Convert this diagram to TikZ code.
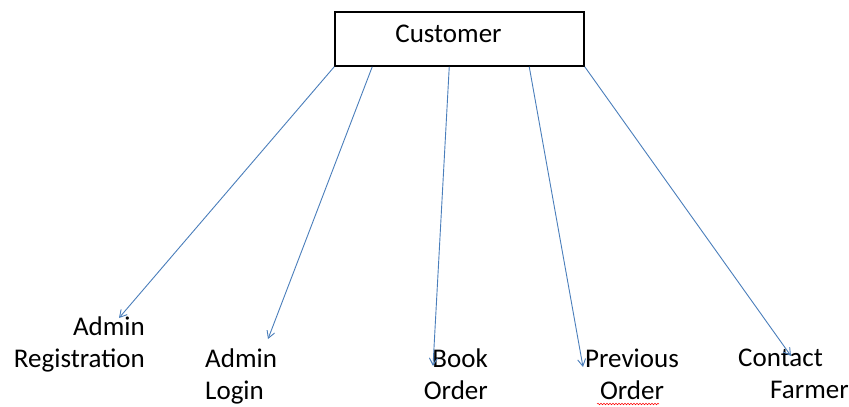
\documentclass[tikz,border=0pt]{standalone}
\usepackage{fontspec}
\setmainfont{Carlito}
\usetikzlibrary{positioning,arrows.meta,decorations.pathmorphing}
\definecolor{linkblue}{HTML}{4A7EBB}
\tikzset{
  box/.style={draw, line width=1.5pt, minimum width=249pt, minimum height=54pt, inner sep=0pt},
  lbl/.style={font=\fontsize{27}{32}\selectfont, inner sep=0pt},
  link/.style={draw=linkblue, line width=0.9pt, -{Straight Barb[length=7pt,width=8pt]}}
}
\begin{document}
\begin{tikzpicture}[x=1pt,y=-1pt]
  \useasboundingbox (0,0) rectangle (849,407);
  \node[box] (customer) at (459.5,39) {};
  \node[lbl, anchor=base] (custname) at (448.5,42) {Customer};

  \node[lbl, anchor=north east, align=right] (adminreg) at (145,317) {Admin\\Registration};
  \node[lbl, anchor=north west, align=left] (adminlogin) at (205,349) {Admin\\Login};
  \node[lbl, anchor=north east, align=right] (bookorder) at (488,349) {Book\\Order};
  \node[lbl, anchor=north, align=center] (prevorder) at (632,349) {Previous\\Order};
  \node[lbl, anchor=north west, align=left] (contact) at (738,349) {Contact\\\hspace*{32pt}Farmer};

  \coordinate (tipreg) at (119,318);
  \coordinate (tiplogin) at (268,339);
  \coordinate (tipbook) at (433,366);
  \coordinate (tipprev) at (583,367);
  \coordinate (tipcontact) at (791,356);

  \draw[link] (customer.south west) -- (tipreg);
  \draw[link] ([xshift=38pt]customer.south west) -- (tiplogin);
  \draw[link] ([xshift=115pt]customer.south west) -- (tipbook);
  \draw[link] ([xshift=195pt]customer.south west) -- (tipprev);
  \draw[link] (customer.south east) -- (tipcontact);

  \draw[red, line width=0.5pt, decorate, decoration={snake, amplitude=0.8pt, segment length=3pt}] (597,404) -- (659,404);
\end{tikzpicture}
\end{document}
